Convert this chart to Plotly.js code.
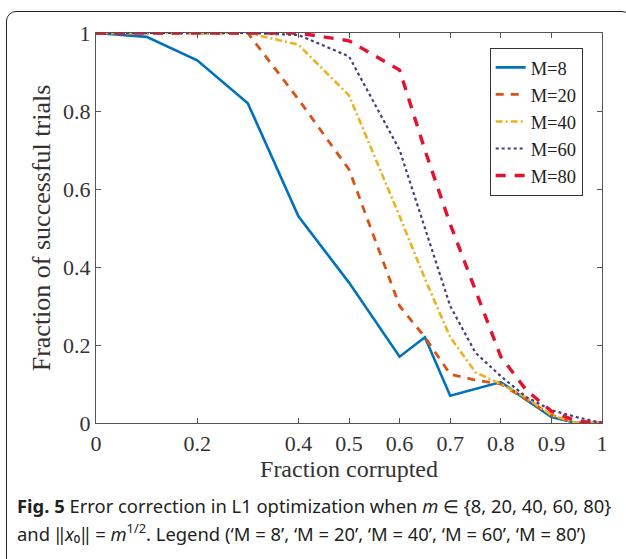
<!DOCTYPE html>
<html>
<head>
<meta charset="utf-8">
<script src="https://cdn.plot.ly/plotly-3.0.1.min.js"></script>
<style>
  html, body { margin: 0; padding: 0; background: #fff; }
  #wrap { position: relative; width: 626px; height: 559px; overflow: hidden; }
  #chart { position: absolute; left: 0; top: 0; width: 626px; height: 559px; }
  #frame { position: absolute; left: 6px; top: 11px; width: 626px; height: 560px;
           border: 1.6px solid #222; border-radius: 10px; box-sizing: border-box; pointer-events: none; }
</style>
</head>
<body>
<div id="wrap">
  <div id="chart"></div>
  <div id="frame"></div>
</div>
<script>
// Fraction corrupted (x)
const fractionCorrupted = [0, 0.1, 0.2, 0.3, 0.4, 0.5, 0.6, 0.65, 0.7, 0.75, 0.8, 0.85, 0.9, 0.95, 1];
// Fraction of successful trials per M
const m8  = [1, 0.99, 0.93, 0.82, 0.53, 0.36, 0.17, 0.22, 0.07, 0.088, 0.105, 0.06, 0.015, 0, 0];
const m20 = [1, 1, 1, 1, 0.83, 0.65, 0.30, 0.22, 0.125, 0.11, 0.10, 0.06, 0.02, 0, 0];
const m40 = [1, 1, 1, 1, 0.97, 0.84, 0.53, 0.37, 0.22, 0.13, 0.10, 0.065, 0.02, 0, 0];
const m60 = [1, 1, 1, 1, 0.995, 0.94, 0.70, 0.50, 0.30, 0.18, 0.12, 0.067, 0.033, 0.015, 0];
const m80 = [1, 1, 1, 1, 1, 0.98, 0.905, 0.70, 0.51, 0.34, 0.17, 0.085, 0.03, 0.005, 0];
const seriesNames = ['M=8', 'M=20', 'M=40', 'M=60', 'M=80'];
const xTicks = [0, 0.2, 0.4, 0.5, 0.6, 0.7, 0.8, 0.9, 1];
const yTicks = [0, 0.2, 0.4, 0.6, 0.8, 1];

const serif = 'Liberation Serif, Times New Roman, serif';
const styles = [
  {color: '#0072BD', width: 2.6, dash: 'solid'},
  {color: '#D95319', width: 2.8, dash: '8px,7px'},
  {color: '#EDB120', width: 2.6, dash: '7px,3px,2px,3px'},
  {color: '#4B3B7C', width: 2.2, dash: 'dot'},
  {color: '#E3122F', width: 3.4, dash: '10px,9px'}
];
const ys = [m8, m20, m40, m60, m80];
const traces = ys.map((y, i) => ({
  x: fractionCorrupted, y: y, name: seriesNames[i], type: 'scatter', mode: 'lines',
  line: {color: styles[i].color, width: styles[i].width, dash: styles[i].dash}
}));

const axisCommon = {
  showgrid: false, zeroline: false, showline: true, linecolor: '#555', linewidth: 1.2,
  mirror: 'ticks', ticks: 'inside', ticklen: 5, tickcolor: '#555', tickwidth: 1,
  tickfont: {family: serif, size: 22, color: '#333'}
};

const captionFont = {family: 'Noto Sans, Open Sans, sans-serif', size: 18.4, color: '#231f20'};

const layout = {
  width: 626, height: 559,
  margin: {l: 96, r: 24, t: 33, b: 136},
  paper_bgcolor: '#fff', plot_bgcolor: '#fff',
  showlegend: true,
  legend: {
    x: 0.778, y: 0.962, xanchor: 'left', yanchor: 'top',
    bgcolor: '#fff', bordercolor: '#333', borderwidth: 1,
    font: {family: serif, size: 18.5, color: '#222'},
    tracegroupgap: 0
  },
  xaxis: Object.assign({}, axisCommon, {
    range: [0, 1], tickvals: xTicks, ticktext: xTicks.map(String),
    title: {text: 'Fraction corrupted', font: {family: serif, size: 24, color: '#333'}, standoff: 3}
  }),
  yaxis: Object.assign({}, axisCommon, {
    range: [0, 1], tickvals: yTicks, ticktext: yTicks.map(String),
    title: {text: 'Fraction of successful trials', font: {family: serif, size: 26, color: '#333'}, standoff: 4}
  }),
  annotations: [
    {xref: 'paper', yref: 'paper', x: -0.160, y: -0.211, xanchor: 'left', yanchor: 'middle', showarrow: false,
     align: 'left',
     text: '<b>Fig. 5</b> Error correction in L1 optimization when <i>m</i> ∈ {8, 20, 40, 60, 80}',
     font: captionFont},
    {xref: 'paper', yref: 'paper', x: -0.160, y: -0.282, xanchor: 'left', yanchor: 'middle', showarrow: false,
     align: 'left',
     text: 'and ‖<i>x</i>₀‖ = <i>m</i><sup>1/2</sup>. Legend (‘M = 8’, ‘M = 20’, ‘M = 40’, ‘M = 60’, ‘M = 80’)',
     font: captionFont}
  ]
};

Plotly.newPlot('chart', traces, layout, {displayModeBar: false, staticPlot: true});
</script>
</body>
</html>
